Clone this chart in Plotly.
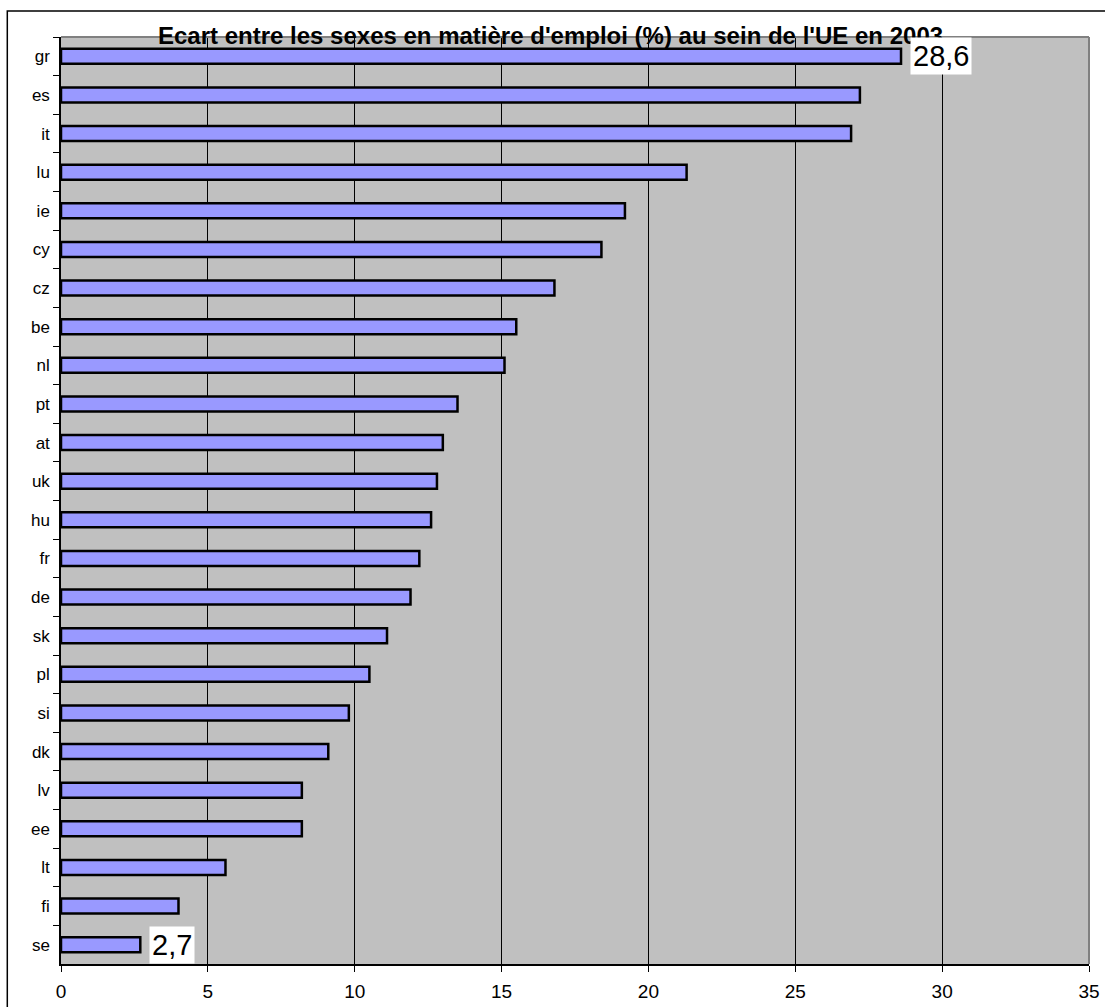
import plotly.graph_objects as go

countries = ["gr", "es", "it", "lu", "ie", "cy", "cz", "be", "nl", "pt", "at", "uk",
             "hu", "fr", "de", "sk", "pl", "si", "dk", "lv", "ee", "lt", "fi", "se"]
values = [28.6, 27.2, 26.9, 21.3, 19.2, 18.4, 16.8, 15.5, 15.1, 13.5, 13.0, 12.8,
          12.6, 12.2, 11.9, 11.1, 10.5, 9.8, 9.1, 8.2, 8.2, 5.6, 4.0, 2.7]
x_ticks = [0, 5, 10, 15, 20, 25, 30, 35]
title_text = "Ecart entre les sexes en matière d'emploi (%) au sein de l'UE en 2003"
labelled = [countries[0], countries[-1]]

FONT = "Liberation Sans, Arial, sans-serif"
W, H = 1105, 1007
ML, MR, MT, MB = 61, 16, 37, 43
PW, PH = W - ML - MR, H - MT - MB

fig = go.Figure()
fig.add_trace(go.Bar(
    x=values, y=countries, orientation="h",
    marker=dict(color="#9999FF", line=dict(color="black", width=2.5)),
    width=0.39, hoverinfo="x+y",
))

annotations = [dict(
    text="<b>" + title_text + "</b>", xref="paper", yref="paper",
    x=(550 - ML) / PW, y=1 + (MT - 36) / PH, xanchor="center", yanchor="middle",
    showarrow=False, font=dict(family=FONT, size=24, color="black"),
)]
for c in labelled:
    v = values[countries.index(c)]
    annotations.append(dict(
        text=f"{v:.1f}".replace(".", ","), x=v, y=c, xref="x", yref="y",
        xanchor="left", yanchor="middle", xshift=9, showarrow=False,
        bgcolor="white", borderpad=2,
        font=dict(family=FONT, size=29, color="black"),
    ))

shapes = [
    # outer chart frame (extends past the page on the right/bottom)
    dict(type="rect", xref="paper", yref="paper",
         x0=(7.3 - ML) / PW, x1=(W + 10 - ML) / PW,
         y0=-(MB + 10) / PH, y1=1 + (MT - 11) / PH,
         line=dict(color="black", width=1.5), fillcolor="rgba(0,0,0,0)", layer="below"),
    # grey plot-area border top and right
    dict(type="line", xref="paper", yref="paper", x0=0, x1=1, y0=1, y1=1,
         line=dict(color="#808080", width=2), layer="above"),
    dict(type="line", xref="paper", yref="paper", x0=1, x1=1, y0=0, y1=1,
         line=dict(color="#808080", width=2), layer="above"),
]

fig.update_layout(
    width=W, height=H,
    margin=dict(l=ML, r=MR, t=MT, b=MB, pad=0, autoexpand=False),
    paper_bgcolor="white", plot_bgcolor="#C0C0C0",
    showlegend=False,
    font=dict(family=FONT, color="black"),
    annotations=annotations, shapes=shapes,
    xaxis=dict(range=[0, 35], tickvals=x_ticks, ticks="outside", ticklen=6,
               tickcolor="black", showgrid=True, gridcolor="black", gridwidth=1,
               zeroline=False, showline=True, linecolor="black", linewidth=1.5,
               ticklabelstandoff=3, automargin=False,
               tickfont=dict(family=FONT, size=19, color="black"), fixedrange=True),
    yaxis=dict(categoryorder="array", categoryarray=countries, autorange="reversed",
               tickson="boundaries", ticks="outside", ticklen=6, tickcolor="black",
               showgrid=False, zeroline=False, showline=True, linecolor="black",
               linewidth=1.5, ticklabelstandoff=6, automargin=False,
               tickfont=dict(family=FONT, size=17, color="black"), fixedrange=True),
)

fig.write_html("out.html")
